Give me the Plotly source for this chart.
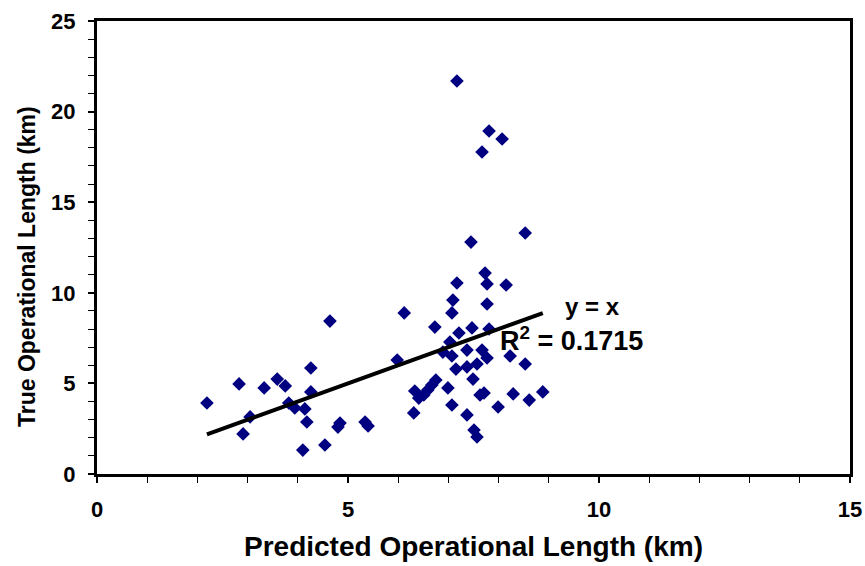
import plotly.graph_objects as go

pred_x = [2.19, 2.83, 2.91, 3.05, 3.33, 3.59, 3.75, 3.82, 3.94, 4.14,
          4.18, 4.26, 4.26, 4.10, 4.64, 4.54, 4.84, 4.80, 5.34, 5.40,
          5.98, 6.12, 6.31, 6.33, 6.41, 6.51, 6.59, 6.67, 6.75, 6.73,
          6.89, 6.99, 7.03, 7.07, 7.07, 7.07, 7.09, 7.15, 7.17, 7.17,
          7.21, 7.37, 7.37, 7.37, 7.45, 7.47, 7.49, 7.51, 7.57, 7.57,
          7.67, 7.67, 7.73, 7.77, 7.77, 7.77, 7.81, 7.81, 7.63, 7.71,
          7.99, 8.07, 8.15, 8.23, 8.29, 8.53, 8.53, 8.61, 8.88]
true_y = [3.92, 4.97, 2.21, 3.15, 4.75, 5.24, 4.86, 3.92, 3.64, 3.59,
          2.87, 4.53, 5.85, 1.32, 8.44, 1.60, 2.81, 2.59, 2.87, 2.65,
          6.29, 8.89, 3.37, 4.58, 4.19, 4.36, 4.64, 4.91, 5.19, 8.11,
          6.73, 4.75, 7.28, 8.89, 6.51, 3.81, 9.60, 5.79, 10.54, 21.69,
          7.78, 6.84, 5.91, 3.26, 12.80, 8.06, 5.24, 2.43, 2.04, 6.07,
          6.84, 17.77, 11.09, 6.40, 10.49, 9.38, 8.00, 18.93, 4.36, 4.47,
          3.70, 18.49, 10.43, 6.51, 4.42, 13.30, 6.07, 4.08, 4.53]

x_ticks = [0, 5, 10, 15]
y_ticks = [0, 5, 10, 15, 20, 25]

line_x = [min(pred_x), max(pred_x)]
line_y = list(line_x)

FONT = "Liberation Sans, Arial, sans-serif"

fig = go.Figure()
fig.add_trace(go.Scatter(
    x=pred_x, y=true_y, mode="markers",
    marker=dict(symbol="diamond", size=10.5, color="#000080",
                line=dict(width=0)),
    showlegend=False, hoverinfo="x+y"))
fig.add_trace(go.Scatter(
    x=line_x, y=line_y, mode="lines",
    line=dict(color="black", width=4),
    showlegend=False, hoverinfo="skip"))

fig.add_annotation(x=9.28, y=9.27, xref="x", yref="y", text="<b>y = x</b>",
                   showarrow=False, xanchor="left", yanchor="middle",
                   font=dict(family=FONT, size=24, color="black"))
fig.add_annotation(x=7.99, y=7.45, xref="x", yref="y",
                   text="<b>R<sup>2</sup> = 0.1715</b>",
                   showarrow=False, xanchor="left", yanchor="middle",
                   font=dict(family=FONT, size=27, color="black"))
# y-axis title
fig.add_annotation(x=-0.093, y=0.459, xref="paper", yref="paper",
                   text="<b>True Operational Length (km)</b>", textangle=-90,
                   showarrow=False, xanchor="center", yanchor="middle",
                   font=dict(family=FONT, size=23, color="black"))

axis_common = dict(
    showgrid=False, zeroline=False, showline=True, linecolor="black",
    linewidth=3, mirror=True, ticks="outside", tickcolor="black",
    tickwidth=1.5, ticklen=6, ticklabelstandoff=8,
    tickfont=dict(family=FONT, size=22, color="black"),
)

fig.update_xaxes(
    range=[0, 15], tickmode="array", tickvals=x_ticks,
    ticktext=["<b>%d</b>" % v for v in x_ticks],
    minor=dict(dtick=1, ticks="outside", ticklen=6, tickcolor="black", tickwidth=1),
    title=dict(text="<b>Predicted Operational Length (km)</b>",
               font=dict(family=FONT, size=28, color="black"), standoff=15),
    **axis_common)
fig.update_yaxes(
    range=[0, 25], tickmode="array", tickvals=y_ticks,
    ticktext=["<b>%d</b>" % v for v in y_ticks],
    minor=dict(dtick=1, ticks="outside", ticklen=6, tickcolor="black", tickwidth=1),
    **axis_common)

fig.update_layout(
    width=865, height=566,
    margin=dict(l=97, r=15, t=21, b=92, autoexpand=False),
    plot_bgcolor="white", paper_bgcolor="white",
)

fig.write_html("out.html", config={"displayModeBar": False},
               post_script="document.body.style.margin='0';")
